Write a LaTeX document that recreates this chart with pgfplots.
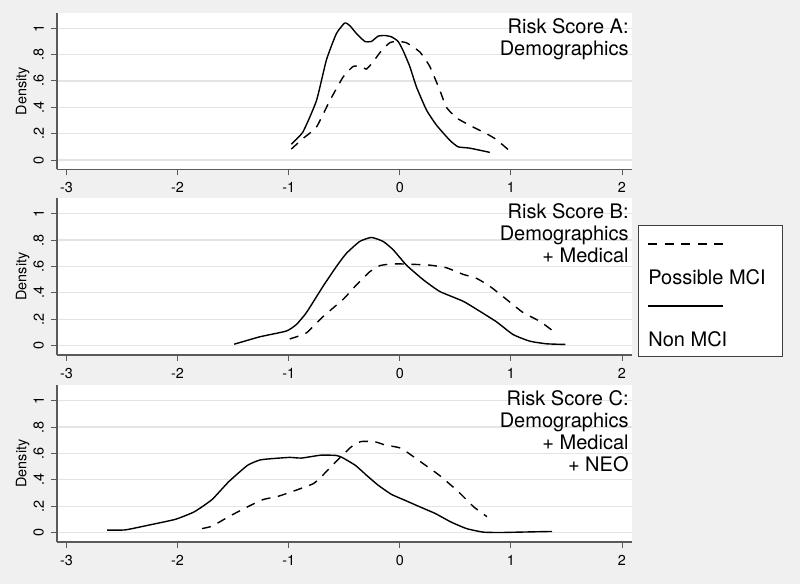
\documentclass[border=0pt]{standalone}
\usepackage{pgfplots}
\pgfplotsset{compat=1.18}
\usepackage{fontspec}
\setmainfont{TeX Gyre Heros}
\definecolor{bggray}{RGB}{240,240,240}
\definecolor{gridgray}{RGB}{228,228,228}
\definecolor{axgray}{RGB}{90,90,90}

\pgfplotsset{
  panel/.style={
    scale only axis, width=287.5pt, height=78.4pt,
    xmin=-3.085, xmax=2.09, ymin=-0.072, ymax=1.118,
    axis x line*=bottom, axis y line*=left,
    axis line style={axgray, line width=0.6pt, -},
    axis background/.style={fill=white},
    xtick={-3,-2,-1,0,1,2}, xticklabels={-3,-2,-1,0,1,2},
    ytick={0,0.2,0.4,0.6,0.8,1}, yticklabels={0,.2,.4,.6,.8,1},
    tick align=outside, major tick length=3pt,
    tick style={axgray, line width=0.5pt},
    ymajorgrids, grid style={gridgray, line width=0.6pt},
    tick label style={font=\fontsize{7.2}{8}\selectfont},
    yticklabel style={rotate=90, anchor=south},
    ylabel={Density},
    every axis y label/.style={at={(rel axis cs:0,0.5)}, xshift=-17.2pt, rotate=90, anchor=center, font=\fontsize{7.2}{8}\selectfont},
  },
  dens/.style={black, line width=0.7pt, smooth, tension=0.3, no markers},
  densd/.style={black, line width=0.7pt, smooth, tension=0.3, no markers, dash pattern=on 4.5pt off 3.8pt},
}

\begin{document}
\begin{tikzpicture}
\fill[bggray] (-28.5pt,-21pt) rectangle (371.5pt,271pt);

% Panel A
\begin{axis}[panel, at={(0pt,186.25pt)}, anchor=south west]
\addplot[dens] coordinates {(-0.976,0.12) (-0.871,0.214) (-0.75,0.45) (-0.66,0.76) (-0.57,0.96) (-0.495,1.04) (-0.45,1.02) (-0.39,0.96) (-0.315,0.90) (-0.255,0.90) (-0.195,0.94) (-0.135,0.945) (-0.075,0.935) (-0.015,0.90) (0.03,0.83) (0.09,0.71) (0.15,0.555) (0.24,0.38) (0.33,0.265) (0.45,0.15) (0.525,0.10) (0.63,0.09) (0.81,0.058)};
\addplot[densd] coordinates {(-0.976,0.083) (-0.87,0.164) (-0.75,0.25) (-0.63,0.45) (-0.51,0.63) (-0.42,0.71) (-0.345,0.71) (-0.30,0.69) (-0.24,0.745) (-0.165,0.83) (-0.09,0.89) (-0.03,0.90) (0.06,0.89) (0.18,0.82) (0.27,0.71) (0.36,0.53) (0.42,0.40) (0.51,0.32) (0.66,0.25) (0.78,0.20) (0.87,0.155) (0.99,0.068)};
\node[anchor=north east, align=right, inner sep=0pt, font=\fontsize{10}{11}\selectfont] at (rel axis cs:1,1) [xshift=-1.5pt, yshift=-2.65pt] {Risk Score A:\\Demographics};
\end{axis}

% Panel B
\begin{axis}[panel, at={(0pt,93.5pt)}, anchor=south west]
\addplot[dens] coordinates {(-1.49,0.01) (-1.26,0.066) (-1.02,0.11) (-0.93,0.16) (-0.84,0.25) (-0.69,0.45) (-0.57,0.60) (-0.48,0.70) (-0.36,0.79) (-0.255,0.82) (-0.15,0.79) (-0.06,0.727) (0.06,0.61) (0.21,0.50) (0.36,0.41) (0.57,0.336) (0.72,0.26) (0.87,0.18) (1.02,0.083) (1.17,0.033) (1.32,0.013) (1.49,0.008)};
\addplot[densd] coordinates {(-0.99,0.05) (-0.84,0.096) (-0.69,0.22) (-0.51,0.35) (-0.39,0.46) (-0.27,0.56) (-0.18,0.606) (-0.06,0.62) (0.12,0.616) (0.27,0.61) (0.42,0.59) (0.57,0.54) (0.69,0.51) (0.81,0.45) (0.96,0.35) (1.11,0.25) (1.26,0.184) (1.37,0.116)};
\node[anchor=north east, align=right, inner sep=0pt, font=\fontsize{10}{11}\selectfont] at (rel axis cs:1,1) [xshift=-1.5pt, yshift=-2.65pt] {Risk Score B:\\Demographics\\+ Medical};
\end{axis}

% Panel C
\begin{axis}[panel, at={(0pt,0pt)}, anchor=south west]
\addplot[dens] coordinates {(-2.634,0.018) (-2.47,0.02) (-2.26,0.056) (-2.02,0.10) (-1.85,0.157) (-1.69,0.25) (-1.54,0.385) (-1.37,0.51) (-1.26,0.55) (-1.16,0.56) (-0.99,0.57) (-0.885,0.565) (-0.71,0.587) (-0.575,0.585) (-0.52,0.57) (-0.40,0.51) (-0.30,0.435) (-0.196,0.36) (-0.076,0.29) (0.045,0.245) (0.18,0.195) (0.32,0.144) (0.46,0.08) (0.60,0.03) (0.75,0.003) (0.905,0.0) (1.08,0.003) (1.37,0.008)};
\addplot[densd] coordinates {(-1.78,0.03) (-1.69,0.048) (-1.54,0.12) (-1.37,0.195) (-1.23,0.25) (-1.09,0.276) (-0.95,0.316) (-0.78,0.37) (-0.71,0.42) (-0.575,0.537) (-0.437,0.65) (-0.35,0.69) (-0.23,0.69) (-0.127,0.663) (0.01,0.64) (0.165,0.55) (0.355,0.435) (0.527,0.31) (0.665,0.195) (0.785,0.12)};
\node[anchor=north east, align=right, inner sep=0pt, font=\fontsize{10}{11}\selectfont] at (rel axis cs:1,1) [xshift=-1.5pt, yshift=-2.65pt] {Risk Score C:\\Demographics\\+ Medical\\+ NEO};
\end{axis}

% Legend
\draw[draw=black!75, fill=white, line width=0.5pt] (290.5pt,92.5pt) rectangle (362.5pt,158pt);
\draw[black, line width=0.7pt, dash pattern=on 4.5pt off 3.8pt] (295.5pt,149pt) -- (333pt,149pt);
\node[anchor=base west, inner sep=0pt, font=\fontsize{10}{12}\selectfont] at (295.5pt,128.5pt) {Possible MCI};
\draw[black, line width=0.7pt] (295.5pt,118pt) -- (333pt,118pt);
\node[anchor=base west, inner sep=0pt, font=\fontsize{10}{12}\selectfont] at (295.5pt,97.6pt) {Non MCI};

\pgfresetboundingbox
\path[use as bounding box] (-28.5pt,-21pt) rectangle (371.5pt,271pt);
\end{tikzpicture}
\end{document}
